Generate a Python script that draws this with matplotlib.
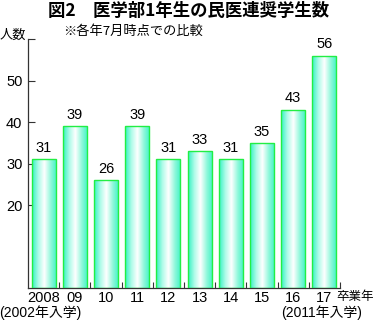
import numpy as np
import matplotlib
matplotlib.use('Agg')
import matplotlib.pyplot as plt
import matplotlib.transforms as mtransforms
from matplotlib.colors import LinearSegmentedColormap

# データ
years = ['2008', '09', '10', '11', '12', '13', '14', '15', '16', '17']
entry_notes = {0: '(2002年入学)', 9: '(2011年入学)'}
students = [31, 39, 26, 39, 31, 33, 31, 35, 43, 56]
yticks = [20, 30, 40, 50, 60]
ytick_labels = ['20', '30', '40', '50', '']

jp = ['Noto Sans CJK JP', 'DejaVu Sans']
num = ['Liberation Sans', 'Noto Sans CJK JP']

fig = plt.figure(figsize=(3.74, 3.20), dpi=100)
ax = fig.add_axes([0.075, 0.10, 0.834, 0.778])

x = np.arange(len(students))
bars = ax.bar(x, students, width=0.77, color='none', edgecolor='#22ee44', linewidth=1.0, zorder=3)

# 横方向のグラデーション
cmap = LinearSegmentedColormap.from_list('g', ['#34f2c2', '#adfbe8', '#ffffff', '#94f8dc', '#40f3c6'])
grad = np.linspace(0, 1, 64).reshape(1, -1)
for b in bars:
    im = ax.imshow(grad, cmap=cmap, aspect='auto', zorder=2,
                   extent=[b.get_x(), b.get_x() + b.get_width(), 0, b.get_height()])
    im.set_clip_path(b)

for xi, v in zip(x, students):
    ax.text(xi, v + 1.0, str(v), ha='center', va='bottom', fontsize=10.5, family=num)

ax.set_xlim(-0.5, len(students) - 0.5)
ax.set_ylim(0, 60)

ax.set_yticks(yticks)
ax.set_yticklabels(ytick_labels, fontsize=10.5, family=num)
ax.tick_params(axis='y', direction='in', length=5, width=0.8, pad=4, colors='#333333', labelcolor='black')

ax.set_xticks(x)
ax.set_xticklabels(years, fontsize=10.5, family=num)
ax.tick_params(axis='x', length=0, pad=2)
ax.set_xticks(np.arange(0.5, len(students), 1.0), minor=True)
ax.tick_params(axis='x', which='minor', direction='in', length=4, width=0.8, colors='#333333')

# 入学年の注記（2行目）
trans = mtransforms.blended_transform_factory(ax.transData, fig.transFigure)
for i, note in entry_notes.items():
    ax.text(x[i] - 0.1, 0.022, note, transform=trans, ha='center', va='center',
            fontsize=10, family=num)

for s in ['top', 'right']:
    ax.spines[s].set_visible(False)
for s in ['left', 'bottom']:
    ax.spines[s].set_color('#333333')
    ax.spines[s].set_linewidth(0.9)

fig.text(0.503, 0.967, '図2　医学部1年生の民医連奨学生数', ha='center', va='center',
         fontsize=12.5, fontweight='bold', family=jp)
fig.text(0.355, 0.903, '※各年7月時点での比較', ha='center', va='center', fontsize=9.5, family=jp)
fig.text(0.0, 0.888, '人数', ha='left', va='center', fontsize=9.5, family=jp)
fig.text(0.999, 0.072, '卒業年', ha='right', va='center', fontsize=9, family=jp)

fig.savefig('out.png', dpi=100)
